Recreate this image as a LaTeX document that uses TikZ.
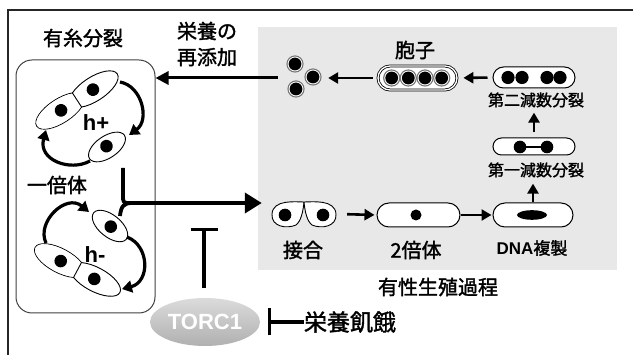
\documentclass[tikz,border=0pt]{standalone}
\usepackage{fontspec}
\setmainfont{Noto Sans CJK JP}[BoldFont={Noto Sans CJK JP}, BoldFeatures={FakeBold=1.6}]
\newfontfamily\lat{Liberation Sans}
\usetikzlibrary{arrows.meta,shapes.geometric}

\definecolor{panel}{HTML}{E8E8E8}
\newcommand\fsz[1]{\fontsize{#1}{#1}\selectfont}

\tikzset{
  lbl/.style={inner sep=0pt, font=\bfseries\fsz{20}},
  small/.style={inner sep=0pt, font=\bfseries\fsz{16}},
  cell/.style={draw=black, line width=0.9pt, fill=white},
  capsule/.style={draw=black, line width=1pt, fill=white, inner sep=0pt},
  flow/.style={line width=2.6pt, -{Triangle[length=10pt,width=11pt]}},
  backflow/.style={line width=3pt, -{Triangle[length=13pt,width=13pt]}},
  bigflow/.style={line width=3.8pt, line join=round, -{Triangle[length=17pt,width=20pt]}},
  cycle/.style={line width=3.2pt, -{Triangle[length=10pt,width=12pt]}},
  inhib/.style={line width=3.2pt, -{Bar[width=27pt]}},
}

% spore: grey ring, thin white gap, black core
\newcommand\spore[1]{%
  \fill[black!55] #1 circle[radius=8.6pt];
  \fill[white] #1 circle[radius=7.4pt];
  \fill[black] #1 circle[radius=6.4pt];}

\begin{document}
\begin{tikzpicture}[x=1pt,y=-1pt]
\useasboundingbox (0,0) rectangle (633,355);

% outer frame
\draw[line width=1.8pt, black!85] (633,10) -- (8,10) -- (8,355);

% sexual reproduction panel
\fill[panel] (258,27) rectangle (617,270);

% mitotic cycle box
\node[draw=black!75, line width=1pt, rounded corners=16pt,
      minimum width=139pt, minimum height=253pt, inner sep=0pt] (mit) at (85.5,186.5) {};

% ---- h+ cells ----
\begin{scope}[shift={(77,100)}, rotate=33]
  \draw[cell] (-20,0) ellipse[x radius=28pt, y radius=12pt];
  \draw[cell] (20,0) ellipse[x radius=28pt, y radius=12pt];
  \fill[white] (-20,0) ellipse[x radius=27.5pt, y radius=11.5pt];
  \draw[line width=0.9pt] (0,-8.6) -- (0,8.6);
  \fill (-19,0) circle[radius=6.3pt];
  \fill (19,0) circle[radius=6.3pt];
\end{scope}
\begin{scope}[shift={(107,147)}, rotate=34]
  \draw[cell] (0,0) ellipse[x radius=21pt, y radius=11pt];
  \fill (0,-1) circle[radius=6.3pt];
\end{scope}
\node[inner sep=0pt, font=\lat\bfseries\fsz{22}] (hplus) at (96,123) {h+};
\draw[cycle] (120,82) .. controls (142,86) and (150,120) .. (129,135);
\draw[cycle] (90,161) .. controls (70,172) and (38,160) .. (46,130);

\node[lbl] (hap) at (57,185) {一倍体};

% ---- h- cells ----
\begin{scope}[shift={(110,226)}, rotate=-39]
  \draw[cell] (0,0) ellipse[x radius=21pt, y radius=11pt];
  \fill (1,0) circle[radius=6.3pt];
\end{scope}
\begin{scope}[shift={(77.5,270)}, rotate=-28]
  \draw[cell] (-20,0) ellipse[x radius=28pt, y radius=12pt];
  \draw[cell] (20,0) ellipse[x radius=28pt, y radius=12pt];
  \fill[white] (-20,0) ellipse[x radius=27.5pt, y radius=11.5pt];
  \draw[line width=0.9pt] (0,-8.6) -- (0,8.6);
  \fill (-19,0) circle[radius=6.3pt];
  \fill (19,0) circle[radius=6.3pt];
\end{scope}
\node[inner sep=0pt, font=\lat\bfseries\fsz{22}] (hminus) at (95,255) {h-};
\draw[cycle] (46,243) .. controls (36,222) and (66,193) .. (89,212);
\draw[cycle] (127,237) .. controls (150,246) and (150,282) .. (122,289);

% ---- labels above the box ----
\node[lbl] (mitlbl) at (83,38) {有糸分裂};
\node[lbl, align=center] (refeed) at (207,44) {栄養の\\[6pt]再添加};

% ---- sexual cycle ----
% mating pair
\node[inner sep=0pt, minimum width=68pt, minimum height=26pt] (mate) at (304,214) {};
\draw[cell] (304,202) .. controls (296,202) and (273,199) .. (272,214)
            .. controls (271,227) and (287,229) .. (296,225)
            .. controls (301,221) and (303,212) .. (304,202);
\draw[cell] (304,202) .. controls (312,202) and (335,199) .. (336,214)
            .. controls (337,227) and (321,229) .. (312,225)
            .. controls (307,221) and (305,212) .. (304,202);
\fill (285,215) circle[radius=6.3pt];
\fill (323,215) circle[radius=6.3pt];
\node[lbl] (matelbl) at (303,250) {接合};

% diploid
\node[capsule, rounded corners=12pt, minimum width=83pt, minimum height=24pt] (dip) at (418.5,215) {};
\fill (416,215) circle[radius=5.5pt];
\node[lbl] (diplbl) at (416,250) {2倍体};

% DNA replication
\node[capsule, rounded corners=12pt, minimum width=80pt, minimum height=24pt] (dna) at (533,215) {};
\fill (532,215) ellipse[x radius=15pt, y radius=4.8pt];
\node[inner sep=0pt] (dnalbl) at (532,248) {{\lat\bfseries\fsz{17}DNA}{\bfseries\fsz{17}複製}};

% meiosis I
\node[capsule, rounded corners=8.5pt, minimum width=82pt, minimum height=17pt] (m1) at (534,146.5) {};
\draw[line width=1.4pt] (520,147) -- (547,147);
\fill (520,147) circle[radius=6.3pt];
\fill (547,147) circle[radius=6.3pt];
\node[small] (m1lbl) at (536,170) {第一減数分裂};

% meiosis II
\node[capsule, rounded corners=10.5pt, minimum width=82pt, minimum height=21pt] (m2) at (534,77.5) {};
\foreach \x in {508,522,547,560} \fill (\x,77.5) circle[radius=6.6pt];
\node[small] (m2lbl) at (536,100) {第二減数分裂};

% ascus with four spores
\node[draw=black, double=white, double distance=1.3pt, line width=0.8pt, fill=white,
      rounded corners=12pt, minimum width=79pt, minimum height=24pt, inner sep=0pt] (ascus) at (417.5,78) {};
\foreach \x in {391.7,408.3,425,441.7} {\spore{(\x,78)}}
\node[lbl] (sporelbl) at (415,50) {胞子};

% released spores
\node[inner sep=0pt, minimum width=36pt, minimum height=42pt] (spores) at (304,78) {};
\spore{(295,64)}
\spore{(313,77)}
\spore{(296,89)}

\node[lbl] (sexlbl) at (438,287) {有性生殖過程};

% flow arrows
\draw[flow, shorten <=9pt, shorten >=2pt] (mate.east) -- (dip.west);
\draw[flow, shorten >=1pt] (dip.east) -- (dna.west);
\draw[flow, shorten >=6pt] (dna.north) -- (dna.north |- m1lbl.south);
\draw[flow, shorten <=5pt, shorten >=5pt] (m1.north) -- (m1.north |- m2lbl.south);
\draw[flow, shorten <=5pt, shorten >=6pt] (m2.west) -- (ascus.east);
\draw[flow, shorten <=5pt, shorten >=6pt] (ascus.west) -- (spores.east);
\draw[backflow, shorten <=8pt] (spores.west) -- (spores.west -| mit.east);

% haploid cells enter mating
\coordinate (hp) at (123,168);
\coordinate (hm) at (120,216);
\draw[bigflow, shorten >=8pt] (hp) -- (123,195) .. controls (123,203) .. (131,203) -- (mate.west |- 131,203);
\draw[line width=3.8pt] (hm) .. controls (121,206) and (124,203) .. (132,203);

% TORC1 and its regulation
\node[ellipse, minimum width=110pt, minimum height=48pt, inner sep=0pt,
      top color=gray!28, bottom color=gray!62] (torc) at (205,322)
      {\color{white}\lat\bfseries\fsz{22}TORC1};
\coordinate (block) at (204,228);
\draw[inhib] (torc.north -| block) ++(0,-10) -- (block);
\node[inner sep=0pt, font=\bfseries\fsz{23}] (starve) at (350,322) {栄養飢餓};
\draw[inhib, shorten >=8pt] (starve.west) -- (torc.east);
\end{tikzpicture}
\end{document}
